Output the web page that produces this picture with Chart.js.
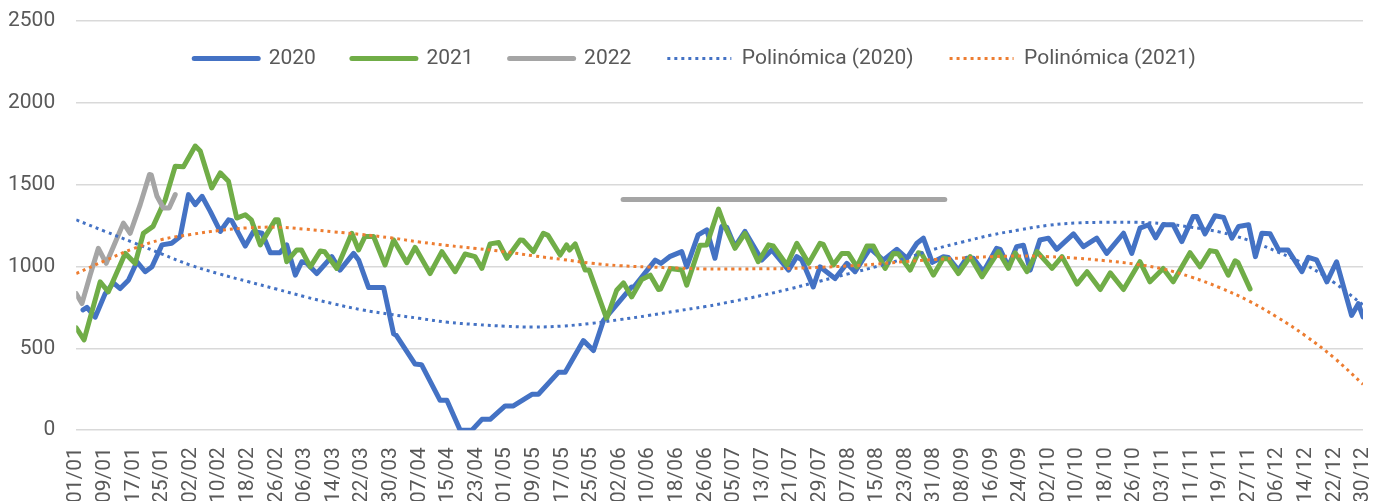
<!DOCTYPE html>
<html>
<head>
<meta charset="utf-8">
<script src="https://cdn.jsdelivr.net/npm/chart.js@4.4.1/dist/chart.umd.min.js"></script>
<style>
  html, body { margin: 0; padding: 0; background: #fff; }
  #wrap { width: 1380px; height: 501px; }
</style>
</head>
<body>
<div id="wrap"><canvas id="chart" width="1380" height="501"></canvas></div>
<script>
// x axis: one tick every 8 days, label text as printed on the source chart
const tickLabels = ["01/01","09/01","17/01","25/01","02/02","10/02","18/02","26/02","06/03","14/03",
  "22/03","30/03","07/04","15/04","23/04","01/05","09/05","17/05","25/05","02/06",
  "10/06","18/06","26/06","05/07","13/07","21/07","29/07","07/08","15/08","23/08",
  "31/08","08/09","16/09","24/09","02/10","10/10","18/10","26/10","03/11","11/11",
  "19/11","27/11","06/12","14/12","22/12","30/12"];
const STEP = 8;

// [day, value] vertices
const line2020 = [[1.9,735],[3,750],[5.3,690],[8.1,834],[10.4,900],[12.3,865],[14.6,916],[17,1029],[19.3,968],[21.2,998],
  [24,1132],[26.7,1142],[29.1,1183],[31.4,1439],[33.3,1378],[35.2,1429],[37.5,1337],[40.3,1214],[42.6,1285],[43.5,1280],
  [47.3,1125],[49.6,1214],[52,1203],[54.3,1084],[57,1084],[58.9,1132],[61.3,947],[63.1,1029],[64.5,1020],[67.3,957],
  [71.5,1060],[73.8,978],[77.6,1080],[79,1040],[81.8,871],[86,871],[88.8,588],[89.5,580],[94.8,404],[96.6,400],
  [101.8,182],[103.7,182],[107.4,0],[110.7,0],[113.5,66],[115.8,66],[120,148],[122.3,148],[127.5,219],[129.3,219],
  [134.9,353],[136.8,353],[141.9,547],[144.7,486],[147.5,670],[148.9,707],[155.4,875],[156,875],[162,1039],[163.6,1019],
  [166,1060],[169.4,1091],[170.8,998],[174,1193],[176.4,1224],[178.7,1050],[180.6,1244],[182,1240],[184.3,1121],[187.1,1214],
  [191.8,1039],[194.6,1101],[199.3,978],[201.6,1060],[203,1040],[206.2,875],[208.1,998],[212.3,926],[215.6,1019],[217.9,968],
  [222.1,1111],[225.8,1039],[229.6,1105],[232.4,1050],[235.2,1142],[237,1173],[239.5,1025],[242.6,1060],[244,1055],[246.8,978],
  [249.1,1050],[251,1050],[253.8,968],[257.5,1111],[258.5,1105],[260.8,998],[263.1,1121],[265,1130],[266.9,978],[269.6,1162],
  [272,1173],[274.3,1105],[279,1199],[281.8,1121],[285.5,1173],[288.3,1080],[293,1203],[295.3,1080],[297.6,1234],[300,1255],
  [302,1175],[304.1,1255],[306.9,1255],[309.3,1152],[312.5,1306],[313.5,1306],[315.8,1199],[318.6,1310],[321,1300],[323.3,1173],
  [325.2,1244],[328,1255],[329.9,1060],[331.7,1203],[334,1200],[336.4,1101],[339,1101],[342.9,968],[344.7,1056],[347,1040],
  [349.9,906],[352.6,1029],[356.8,701],[358.7,773],[360,691]];

const line2021 = [[0,625],[2.2,551],[6.7,906],[9,845],[13.7,1080],[16.5,1019],[18.8,1203],[21.5,1245],[24.9,1408],[27.7,1613],
  [30,1609],[33.3,1736],[34.7,1705],[37.9,1480],[40.3,1572],[42.6,1521],[44.9,1296],[47.3,1316],[49,1285],[51.5,1132],
  [55.7,1285],[56.5,1285],[58.9,1029],[61.7,1101],[63,1101],[65.5,998],[68.3,1095],[69.5,1090],[72.9,988],[77.1,1203],
  [79,1101],[80.8,1183],[83.2,1183],[86.4,1009],[88.8,1162],[92.5,1023],[94.8,1117],[99,957],[102.3,1091],[106,968],
  [108.8,1076],[111.6,1060],[113.5,988],[115.8,1138],[118.2,1146],[120.5,1050],[124.2,1162],[125,1160],[127.9,1091],[130.7,1203],
  [132,1190],[135.4,1070],[137.2,1132],[138,1100],[139.6,1138],[142.4,978],[143.5,978],[148.4,681],[151.2,855],[153.1,900],
  [155.4,814],[158.2,920],[160.6,947],[162.9,859],[163.5,862],[166.2,988],[169.4,978],[170.8,886],[174.5,1130],[176.4,1132],
  [179.7,1351],[181.5,1244],[184.3,1111],[187.1,1203],[190.8,1029],[193.7,1132],[195,1125],[198.8,1009],[201.6,1142],[204.9,1019],
  [208.1,1142],[209,1135],[211.8,1009],[214.2,1080],[216,1080],[218.4,998],[221.2,1125],[223,1125],[226.3,988],[228.6,1080],
  [230,1078],[233.3,978],[235.6,1084],[236.5,1080],[239.8,947],[242.6,1050],[244,1045],[246.8,957],[250.1,1060],[253.4,937],
  [258,1091],[260.8,988],[262.7,1084],[266,968],[268.8,1091],[273,988],[275.8,1060],[280,892],[282.8,968],[286.5,859],
  [289.3,961],[293,859],[297.6,1029],[300.4,906],[304.1,988],[306.9,906],[311.6,1084],[314.4,998],[317.2,1097],[319,1090],
  [322.3,947],[324.2,1035],[325,1025],[328.4,863]];

const line2022 = [[0,834],[1.6,773],[3.9,947],[6.2,1111],[8.4,1019],[10.4,1121],[13.2,1265],[15.1,1203],[17.9,1378],[20.5,1562],
  [21,1560],[22.6,1429],[24.4,1357],[26,1357],[27.7,1439]];

// stray flat grey segment that sits in the source chart
const bar2022 = [[153,1410],[243,1410]];

// polynomial trend values, one per tick
const trend2020 = [1285,1215,1146,1076,1008,955,908,862,815,772,735,707,683,659,645,635,630,636,652,675,
  700,728,755,788,824,865,910,955,1000,1050,1105,1150,1192,1224,1252,1266,1270,1270,1262,1240,
  1210,1160,1090,1010,900,765];
const trend2021 = [957,1035,1109,1165,1195,1220,1236,1240,1228,1212,1195,1175,1150,1128,1110,1090,1065,1043,1020,1005,
  997,990,985,985,986,988,995,1003,1015,1030,1042,1052,1060,1064,1060,1050,1035,1015,985,935,
  870,790,690,575,440,280];

const yTicks = [0, 500, 1000, 1500, 2000, 2500];

/* ---------------- HELPERS ---------------- */
function toPoints(pairs) {
  return pairs.map(([x, y]) => ({ x, y }));
}

function trendPoints(vals) {
  return vals.map((y, i) => ({ x: i * STEP, y }));
}

// legend takes no room in the layout; put it over the top of the plot
const legendInside = {
  id: "legendInside",
  afterLayout(c) {
    const lg = c.legend;
    lg.top = 12;
    lg.bottom = 112;
    lg.left += 20;
    lg.right += 20;
  }
};

/* ---------------- CHART ---------------- */
Chart.defaults.font.family = "Roboto";
Chart.defaults.font.size = 21;
Chart.defaults.color = "#595959";

const solid = { borderWidth: 5, borderCapStyle: "round", borderJoinStyle: "round", pointRadius: 0, fill: false };
const dotted = { borderWidth: 3, borderDash: [3, 4], pointRadius: 0, fill: false, tension: 0.4 };

new Chart(document.getElementById("chart"), {
  type: "line",
  data: {
    datasets: [
      { ...solid, label: "2020", data: toPoints(line2020), borderColor: "#4472C4", order: 6 },
      { ...solid, label: "2021", data: toPoints(line2021), borderColor: "#70AD47", order: 5 },
      { ...solid, label: "2022", data: toPoints(line2022), borderColor: "#A5A5A5", order: 4 },
      { ...solid, label: "", data: toPoints(bar2022), borderColor: "#A5A5A5", order: 3 },
      { ...dotted, label: "Polinómica (2020)", data: trendPoints(trend2020), borderColor: "#4472C4", order: 2 },
      { ...dotted, label: "Polinómica (2021)", data: trendPoints(trend2021), borderColor: "#ED7D31", order: 1 }
    ]
  },
  options: {
    responsive: false,
    animation: false,
    devicePixelRatio: 1,
    layout: { padding: { top: 21, right: 17, left: -13, bottom: -19 } },
    scales: {
      x: {
        type: "linear",
        min: 0,
        max: (tickLabels.length - 1) * STEP,
        grid: { display: false, drawTicks: false },
        border: { display: false },
        afterFit(s) { s.paddingLeft = 0; s.paddingRight = 0; },
        ticks: {
          stepSize: STEP,
          autoSkip: false,
          minRotation: 90,
          maxRotation: 90,
          padding: 17,
          callback: v => tickLabels[Math.round(v / STEP)]
        }
      },
      y: {
        min: yTicks[0],
        max: yTicks[yTicks.length - 1],
        grid: { color: "#D9D9D9", lineWidth: 1.5, drawTicks: false },
        border: { display: false },
        afterFit(s) { s.paddingTop = 0; s.paddingBottom = 0; },
        ticks: { stepSize: 500, padding: 21, callback: v => String(v) }
      }
    },
    plugins: {
      tooltip: { enabled: false },
      legend: {
        position: "top",
        align: "center",
        maxHeight: 0.01,
        labels: {
          usePointStyle: true,
          pointStyle: "line",
          pointStyleWidth: 64,
          padding: 36,
          color: "#595959",
          filter: item => item.text !== "",
          sort: (a, b) => a.datasetIndex - b.datasetIndex,
          generateLabels(chart) {
            const items = Chart.defaults.plugins.legend.labels.generateLabels(chart);
            items.forEach(it => {
              const ds = chart.data.datasets[it.datasetIndex];
              it.lineWidth = ds.borderWidth;
              it.lineDash = ds.borderDash || [];
              it.strokeStyle = ds.borderColor;
              it.lineCap = ds.borderCapStyle || "butt";
            });
            return items;
          }
        }
      }
    }
  },
  plugins: [legendInside]
});
</script>
</body>
</html>
